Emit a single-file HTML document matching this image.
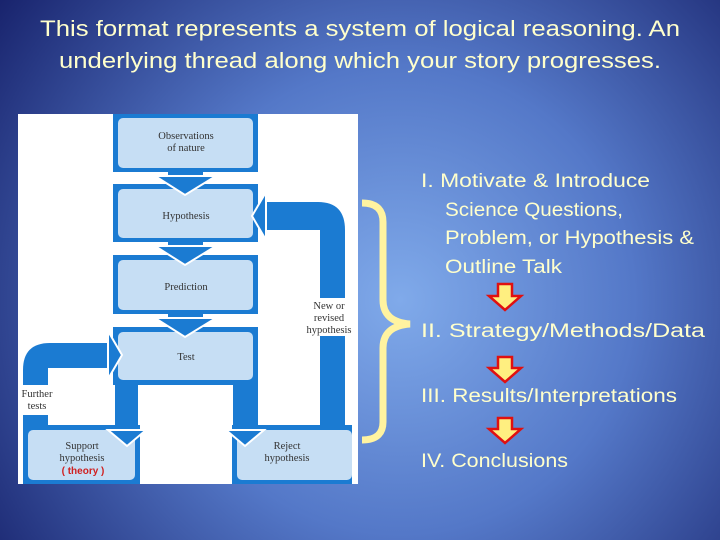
<!DOCTYPE html>
<html><head><meta charset="utf-8"><style>
html,body{margin:0;padding:0;width:720px;height:540px;overflow:hidden}
</style></head><body>
<svg width="720" height="540" viewBox="0 0 720 540" xmlns="http://www.w3.org/2000/svg">
<defs>
<radialGradient id="bg" cx="400" cy="300" r="520" gradientUnits="userSpaceOnUse">
<stop offset="0" stop-color="#80aaea"/>
<stop offset="0.45" stop-color="#5478c8"/>
<stop offset="1" stop-color="#141d66"/>
</radialGradient>
</defs>
<rect width="720" height="540" fill="url(#bg)"/>
<g font-family="Liberation Sans, sans-serif" fill="#ffffcc" font-size="22">
<text x="360" y="36" text-anchor="middle" textLength="640" lengthAdjust="spacingAndGlyphs">This format represents a system of logical reasoning.  An</text>
<text x="360" y="68" text-anchor="middle" textLength="602" lengthAdjust="spacingAndGlyphs">underlying thread along which your story progresses.</text>
</g>
<!-- diagram -->
<rect x="18" y="114" width="340" height="370" fill="#fff"/>
<g fill="#1b7bd2">
<!-- box frames -->
<rect x="113" y="114" width="145" height="58"/>
<rect x="113" y="184" width="145" height="58"/>
<rect x="113" y="255" width="145" height="59"/>
<rect x="113" y="327" width="145" height="58"/>
<!-- stems -->
<rect x="168" y="168" width="35" height="20"/>
<rect x="168" y="238" width="35" height="20"/>
<rect x="168" y="310" width="35" height="20"/>
<rect x="115" y="380" width="23" height="55"/>
<rect x="233" y="380" width="25" height="55"/>
<rect x="23" y="425" width="117" height="59"/>
<rect x="232" y="425" width="120" height="59"/>
<!-- further tests loop -->
<path d="M23,450 L23,370 Q23,343 50,343 L112,343 L112,368 L48,368 L48,450 Z"/>
<!-- right loop -->
<path d="M320,430 L320,230 L262,230 L262,202 L318,202 Q345,202 345,230 L345,430 Z"/>
</g>
<rect x="300" y="298" width="58" height="38" fill="#fff"/>
<rect x="18" y="385" width="36" height="30" fill="#fff"/>
<g fill="#c6def4">
<rect x="118" y="118" width="135" height="50" rx="5"/>
<rect x="118" y="189" width="135" height="49" rx="5"/>
<rect x="118" y="260" width="135" height="50" rx="5"/>
<rect x="118" y="332" width="135" height="48" rx="5"/>
<rect x="28" y="430" width="107" height="50" rx="5"/>
<rect x="237" y="430" width="115" height="50" rx="5"/>
</g>
<!-- arrowheads with white outline -->
<g fill="#1b7bd2" stroke="#fff" stroke-width="2" stroke-linejoin="miter">
<polygon points="155,176 216,176 185,195"/>
<polygon points="155,246 216,246 185,265"/>
<polygon points="155,318 216,318 185,337"/>
<polygon points="108,430 146,430 127,446"/>
<polygon points="226,430 264,430 245,446"/>
<polygon points="108,331 122,355 108,379"/>
<polygon points="266,192 252,216 266,240"/>
</g>
<g font-family="Liberation Serif, serif" font-size="10.5" fill="#333" text-anchor="middle">
<text x="186" y="139">Observations</text><text x="186" y="151">of nature</text>
<text x="186" y="219">Hypothesis</text>
<text x="186" y="290">Prediction</text>
<text x="186" y="360">Test</text>
<text x="82" y="449">Support</text><text x="82" y="461">hypothesis</text>
<text x="287" y="449">Reject</text><text x="287" y="461">hypothesis</text>
<text x="329" y="309">New or</text><text x="329" y="321">revised</text><text x="329" y="333">hypothesis</text>
<text x="37" y="397">Further</text><text x="37" y="409">tests</text>
</g>
<text x="83" y="474" font-family="Liberation Sans, sans-serif" font-size="10" font-weight="bold" fill="#d02020" text-anchor="middle">( theory )</text>
<!-- brace -->
<path d="M362,203 Q383,203 383,222 L383,300 Q383,322 410,324 Q383,326 383,348 L383,422 Q383,440 362,440" fill="none" stroke="#fff3a0" stroke-width="7"/>
<!-- right text -->
<g font-family="Liberation Sans, sans-serif" font-size="19" fill="#ffffcc">
<text x="421" y="187" textLength="229" lengthAdjust="spacingAndGlyphs">I. Motivate &amp; Introduce</text>
<text x="445" y="216" textLength="178" lengthAdjust="spacingAndGlyphs">Science Questions,</text>
<text x="445" y="244" textLength="249" lengthAdjust="spacingAndGlyphs">Problem, or Hypothesis &amp;</text>
<text x="445" y="273" textLength="117" lengthAdjust="spacingAndGlyphs">Outline Talk</text>
<text x="421" y="337" textLength="284" lengthAdjust="spacingAndGlyphs">II. Strategy/Methods/Data</text>
<text x="421" y="402" textLength="256" lengthAdjust="spacingAndGlyphs">III. Results/Interpretations</text>
<text x="421" y="467" textLength="147" lengthAdjust="spacingAndGlyphs">IV. Conclusions</text>
</g>
<g fill="#ffef80" stroke="#e01010" stroke-width="2.5" stroke-linejoin="miter">
<polygon points="498,284 512,284 512,296 521,296 505,310 489,296 498,296"/>
<polygon points="498,357 512,357 512,368 521,368 505,382 489,368 498,368"/>
<polygon points="498,418 512,418 512,429 521,429 505,443 489,429 498,429"/>
</g>
</svg>
</body></html>
